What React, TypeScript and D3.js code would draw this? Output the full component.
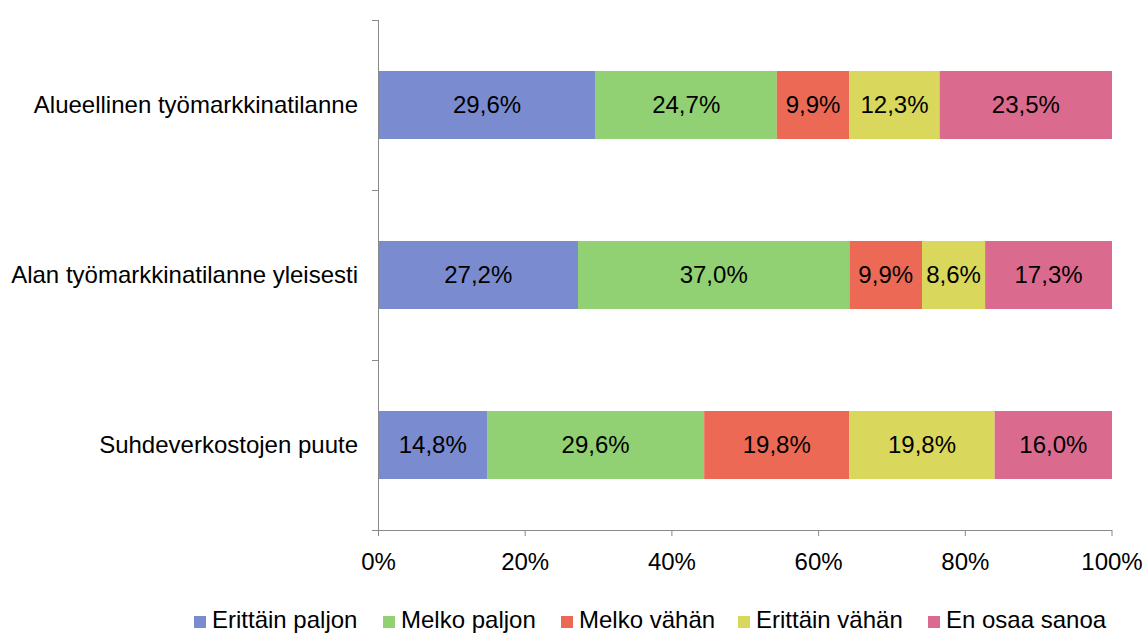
import * as d3 from 'd3';

const categories = ['Alueellinen työmarkkinatilanne', 'Alan työmarkkinatilanne yleisesti', 'Suhdeverkostojen puute'];
const seriesNames = ['Erittäin paljon', 'Melko paljon', 'Melko vähän', 'Erittäin vähän', 'En osaa sanoa'];
const erittainPaljon = [29.6, 27.2, 14.8];
const melkoPaljon = [24.7, 37.0, 29.6];
const melkoVahan = [9.9, 9.9, 19.8];
const erittainVahan = [12.3, 8.6, 19.8];
const enOsaaSanoa = [23.5, 17.3, 16.0];
const ticks = [0, 20, 40, 60, 80, 100];

const colors = ['#7b8bcf', '#92d173', '#ec6a55', '#d9d85c', '#da6b8f'];
const legendX = [194, 383, 561, 738, 928];

export default function App() {
  const width = 1144;
  const height = 633;
  const font = '"Liberation Sans", Arial, sans-serif';
  const fs = 24;

  const x = d3.scaleLinear().domain([0, 100]).range([378.5, 1112]);
  const y = d3.scaleBand().domain(categories).range([20, 530]).paddingInner(0.6).paddingOuter(0.3);

  const table = categories.map((c, i) => ({
    category: c,
    values: [erittainPaljon[i], melkoPaljon[i], melkoVahan[i], erittainVahan[i], enOsaaSanoa[i]],
  }));

  const fmt = (v: number) => v.toFixed(1).replace('.', ',') + '%';
  const axisColor = '#898989';

  return (
    <svg width={width} height={height} style={{ position: 'absolute', left: 0, top: 0 }} fontFamily={font}>
      <rect width={width} height={height} fill="#fff" />
      {/* bars */}
      {table.map((row) => {
        let acc = 0;
        return (
          <g key={row.category}>
            {row.values.map((v, j) => {
              const x0 = x(acc);
              acc += v;
              const x1 = x(acc);
              return (
                <g key={j}>
                  <rect x={x0} y={y(row.category)!} width={x1 - x0} height={y.bandwidth()} fill={colors[j]} />
                  <text
                    x={(x0 + x1) / 2}
                    y={y(row.category)! + y.bandwidth() / 2}
                    dy="0.35em"
                    textAnchor="middle"
                    fontSize={fs}
                    fill="#000"
                  >
                    {fmt(v)}
                  </text>
                </g>
              );
            })}
          </g>
        );
      })}
      {/* y axis */}
      <line x1={378.5} x2={378.5} y1={20} y2={530} stroke={axisColor} />
      {[0, 1, 2, 3].map((k) => {
        const yy = Math.round(20 + y.step() * k) + 0.5;
        return <line key={k} x1={372} x2={378.5} y1={yy} y2={yy} stroke={axisColor} />;
      })}
      {categories.map((c) => (
        <text
          key={c}
          x={358}
          y={y(c)! + y.bandwidth() / 2}
          dy="0.35em"
          textAnchor="end"
          fontSize={fs}
          fill="#000"
        >
          {c}
        </text>
      ))}
      {/* x axis */}
      <line x1={378.5} x2={1112} y1={530.5} y2={530.5} stroke={axisColor} />
      {ticks.map((t) => (
        <g key={t} transform={`translate(${x(t)},0)`}>
          <line y1={530} y2={536} stroke={axisColor} />
          <text y={562} dy="0.35em" textAnchor="middle" fontSize={fs} fill="#000">
            {t}%
          </text>
        </g>
      ))}
      {/* legend */}
      {seriesNames.map((s, i) => (
        <g key={s}>
          <rect x={legendX[i]} y={616} width={12} height={12} fill={colors[i]} />
          <text x={legendX[i] + 18} y={628} fontSize={fs} fill="#000">
            {s}
          </text>
        </g>
      ))}
    </svg>
  );
}
